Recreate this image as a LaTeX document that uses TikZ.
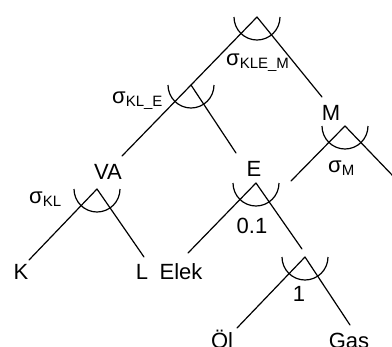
\documentclass[tikz,border=0pt]{standalone}
\usepackage{fontspec}
\setmainfont{Liberation Sans}
\newcommand{\mysig}[1]{σ\raisebox{-3bp}{\fontsize{15bp}{15bp}\selectfont #1}}
\begin{document}
\begin{tikzpicture}[x=1bp,y=1bp,
  lbl/.style={inner sep=0pt,anchor=base,font=\fontsize{22bp}{26bp}\selectfont},
  siglbl/.style={inner sep=0pt,anchor=base west,font=\fontsize{22bp}{26bp}\selectfont},
  branch/.style={line width=1.2bp,line cap=round},
  nest/.style={line width=1.2bp}]
\useasboundingbox (0,0) rectangle (392,-347);
% apex coordinates
\coordinate (T) at (257,-17);
\coordinate (KLE) at (191,-85);
\coordinate (VAa) at (97,-189);
\coordinate (Ea) at (256,-183);
\coordinate (Oa) at (305,-257);
\coordinate (Ma) at (345,-126);
% free line ends
\coordinate (VAend) at (122,-156);
\coordinate (Eend) at (236,-153);
\coordinate (Mend) at (322,-97);
\coordinate (Kend) at (29,-260);
\coordinate (Lend) at (144,-257);
\coordinate (Elekend) at (188,-253);
\coordinate (Oend) at (302,-249);
\coordinate (Olend) at (237,-328);
\coordinate (Gasend) at (350,-325);
\coordinate (MLend) at (291,-181);
\coordinate (MRend) at (394,-177);
% branches
\draw[branch] (T) -- (KLE) -- (VAend);
\draw[branch] (T) -- (Mend);
\draw[branch] (KLE) -- (Eend);
\draw[branch] (VAa) -- (Kend);
\draw[branch] (VAa) -- (Lend);
\draw[branch] (Ea) -- (Elekend);
\draw[branch] (Ea) -- (Oend);
\draw[branch] (Oa) -- (Olend);
\draw[branch] (Oa) -- (Gasend);
\draw[branch] (Ma) -- (MLend);
\draw[branch] (Ma) -- (MRend);
% nests (arcs)
\foreach \c in {T,KLE,VAa,Ea,Oa,Ma}
  \draw[nest] ([xshift=-23bp]\c) arc[start angle=180,end angle=360,radius=23bp];
% labels
\node[lbl] (VA) at (108,-179) {VA};
\node[lbl] (K) at (21,-279) {K};
\node[lbl] (L) at (142,-279) {L};
\node[lbl] (Elek) at (181,-279) {Elek};
\node[lbl] (E) at (254,-176) {E};
\node[lbl] (M) at (331,-120) {M};
\node[lbl] (Ol) at (222,-348) {Öl};
\node[lbl] (Gas) at (349,-348) {Gas};
\node[lbl] (e01) at (252,-233) {0.1};
\node[lbl] (e1) at (299,-301) {1};
\node[siglbl] (sKLEM) at (226,-65) {\mysig{KLE\_M}};
\node[siglbl] (sKLE) at (112,-103) {\mysig{KL\_E}};
\node[siglbl] (sM) at (328,-172) {\mysig{M}};
\node[siglbl] (sKL) at (29,-203) {\mysig{KL}};
\end{tikzpicture}
\end{document}
